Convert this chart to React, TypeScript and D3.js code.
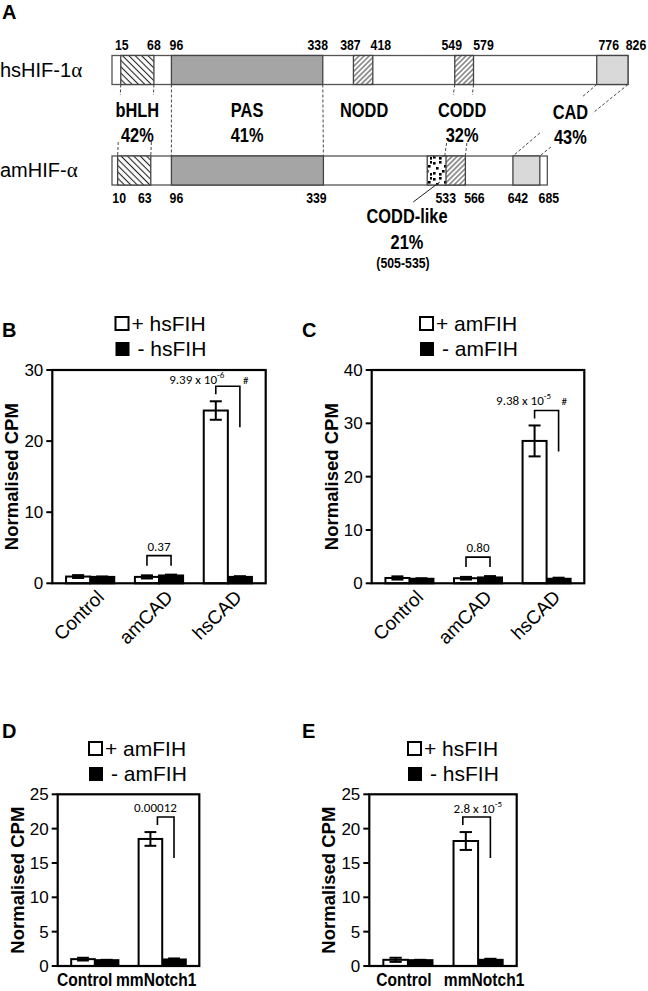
import React from "react";
import * as d3 from "d3";

// ---------------- Panel A data ----------------
const hsLength = 826;
const amLength = 697;
const hsDomainStart = [15, 96, 387, 549, 776];
const hsDomainEnd = [68, 338, 418, 579, 826];
const hsDomainFill = ["hatchB", "pas", "hatchF", "hatchF", "cad"];
const amDomainStart = [10, 96, 533, 505, 642];
const amDomainEnd = [63, 339, 566, 535, 685];
const amDomainFill = ["hatchB", "pas", "hatchF", "dots", "cad"];
const identityNames = ["bHLH", "PAS", "NODD", "CODD", "CAD"];
const identityPct = ["42%", "41%", "", "32%", "43%"];
const hsTickLabels = [15, 68, 96, 338, 387, 418, 549, 579, 776, 826];
const amTickLabels = [10, 63, 96, 339, 533, 566, 642, 685];
const connectorHs = [15, 68, 96, 338, 549, 579, 776, 826];
const connectorAm = [10, 63, 96, 339, 533, 566, 642, 685];
const coddLikeText = ["CODD-like", "21%", "(505-535)"];

// ---------------- Panels B-E data ----------------
const catsBC = ["Control", "amCAD", "hsCAD"];
const catsDE = ["Control", "mmNotch1"];

const bPlus = [0.95, 0.9, 24.3];
const bPlusErr = [0.2, 0.22, 1.3];
const bMinus = [0.9, 1.1, 0.9];
const bMinusErr = [0.06, 0.12, 0.1];

const cPlus = [1.0, 0.95, 26.7];
const cPlusErr = [0.3, 0.25, 2.9];
const cMinus = [0.85, 1.1, 0.85];
const cMinusErr = [0.1, 0.25, 0.2];

const dPlus = [1.0, 18.5];
const dPlusErr = [0.2, 1.0];
const dMinus = [0.85, 0.95];
const dMinusErr = [0.05, 0.15];

const ePlus = [0.9, 18.2];
const ePlusErr = [0.3, 1.3];
const eMinus = [0.85, 0.9];
const eMinusErr = [0.05, 0.15];

const bTicks = [0, 10, 20, 30];
const cTicks = [0, 10, 20, 30, 40];
const deTicks = [0, 5, 10, 15, 20, 25];

const legendB = ["+ hsFIH", "- hsFIH"];
const legendC = ["+ amFIH", "- amFIH"];
const legendD = ["+ amFIH", "- amFIH"];
const legendE = ["+ hsFIH", "- hsFIH"];

const bBrackets = [
  { cat: 1, text: "0.37", sup: "", hash: false, kind: "small" },
  { cat: 2, text: "9.39 x 10", sup: "-6", hash: true, kind: "tall" },
];
const cBrackets = [
  { cat: 1, text: "0.80", sup: "", hash: false, kind: "small" },
  { cat: 2, text: "9.38 x 10", sup: "-5", hash: true, kind: "tall" },
];
const dBrackets = [{ cat: 1, text: "0.00012", sup: "", hash: false, kind: "tall" }];
const eBrackets = [{ cat: 1, text: "2.8 x 10", sup: "-5", hash: false, kind: "tall" }];

// ---------------- styling ----------------
const ARIAL = "'Liberation Sans', Arial, Helvetica, sans-serif";
const CALI = "Carlito, Calibri, Lato, 'Open Sans', sans-serif";
const NARROW_SCALE = 0.82;

const xA = d3.scaleLinear().domain([1, hsLength]).range([112, 628]);
const HS_Y = 55.5;
const AM_Y = 156;
const BAR_H = 29;

const hsTickDx = [1, 0, 5, -5, -3, 8, -3, 10, 12, 8];
const amTickDx = [1.5, -6, 5, -7, 1, 9, 5, 9];
const identityDx = [0, 0, 1, -2, -42];
const identityDy = [0, 0, 0, 0, 2];
const connectorGaps: (number[] | null)[] = [
  [95, 142], [95, 142], null, null, [95, 143], [95, 143], [97, 133], [113, 147],
];

function NText({ x, y, size, anchor = "middle", weight = "bold", children }: any) {
  return (
    <text transform={`translate(${x},${y}) scale(${NARROW_SCALE},1)`} textAnchor={anchor}
      fontFamily={ARIAL} fontWeight={weight} fontSize={size}>{children}</text>
  );
}

function fillFor(k: string) {
  if (k === "pas") return "#a5a5a5";
  if (k === "cad") return "#d9d9d9";
  return `url(#${k})`;
}

function ProteinBar({ y, length, starts, ends, fills }: any) {
  return (
    <g>
      <rect x={xA(1)} y={y} width={xA(length) - xA(1)} height={BAR_H} fill="#fff" stroke="#555" strokeWidth={1.3} />
      {starts.map((s: number, i: number) => (
        <rect key={i} x={xA(s)} y={y} width={xA(ends[i]) - xA(s)} height={BAR_H}
          fill={fillFor(fills[i])} stroke="#444" strokeWidth={1.3} />
      ))}
    </g>
  );
}

function PanelA() {
  const yTop = HS_Y + BAR_H;
  const yBot = AM_Y;
  return (
    <g>
      <text x={2} y={19} fontFamily={ARIAL} fontWeight="bold" fontSize={20}>A</text>
      <text x={0} y={77} fontFamily={ARIAL} fontSize={20}>hsHIF-1<tspan fontFamily="'Liberation Serif', serif" fontSize={21}>α</tspan></text>
      <text x={0} y={177} fontFamily={ARIAL} fontSize={20}>amHIF-<tspan fontFamily="'Liberation Serif', serif" fontSize={21}>α</tspan></text>

      {hsTickLabels.map((t, i) => (
        <NText key={"h" + i} x={xA(t) + hsTickDx[i]} y={50} size={15}>{t}</NText>
      ))}
      {amTickLabels.map((t, i) => (
        <NText key={"a" + i} x={xA(t) + amTickDx[i]} y={203} size={15}>{t}</NText>
      ))}

      {connectorHs.map((h, i) => {
        const xh = xA(h), xa = xA(connectorAm[i]);
        const at = (yy: number) => xh + (xa - xh) * (yy - yTop) / (yBot - yTop);
        const g = connectorGaps[i];
        const segs = g ? [[yTop, g[0]], [g[1], yBot]] : [[yTop, yBot]];
        return segs.map((s, j) => (
          <line key={i + "-" + j} x1={at(s[0])} y1={s[0]} x2={at(s[1])} y2={s[1]}
            stroke="#333" strokeWidth={0.9} strokeDasharray="3,2" />
        ));
      })}

      <ProteinBar y={HS_Y} length={hsLength} starts={hsDomainStart} ends={hsDomainEnd} fills={hsDomainFill} />
      <ProteinBar y={AM_Y} length={amLength} starts={amDomainStart} ends={amDomainEnd} fills={amDomainFill} />

      {identityNames.map((n, i) => {
        const cx = (xA(hsDomainStart[i]) + xA(hsDomainEnd[i])) / 2 + identityDx[i];
        return (
          <g key={n}>
            <NText x={cx} y={117 + identityDy[i]} size={20}>{n}</NText>
            {identityPct[i] && <NText x={cx} y={142 + identityDy[i]} size={20}>{identityPct[i]}</NText>}
          </g>
        );
      })}

      <line x1={xA(525)} y1={AM_Y + BAR_H - 3} x2={xA(505) - 14} y2={202} stroke="#222" strokeWidth={1} />
      <NText x={407} y={223} size={20}>{coddLikeText[0]}</NText>
      <NText x={407} y={249} size={20}>{coddLikeText[1]}</NText>
      <NText x={403} y={268} size={15}>{coddLikeText[2]}</NText>
    </g>
  );
}

type PanelCfg = {
  letter: string; letterX: number; letterY: number;
  frame: number[]; yMax: number; ticks: number[];
  cats: string[]; plus: number[]; plusErr: number[]; minus: number[]; minusErr: number[];
  legend: string[]; legendX: number; legendY: number;
  rotated: boolean; xLabelDx: number[];
  brackets: any[]; leftLegDx: number; labelDx: number; labelDy: number;
};

function BarPanel({ c }: { c: PanelCfg }) {
  const [x0, x1, y0, y1] = c.frame;
  const y = d3.scaleLinear().domain([0, c.yMax]).range([y1, y0]);
  const xb = d3.scaleBand().domain(c.cats).range([x0, x1]).paddingInner(0.3).paddingOuter(0.2);
  const xs = d3.scaleBand().domain(["plus", "minus"]).range([0, xb.bandwidth()]);
  const bw = xs.bandwidth();
  const capW = bw * 0.5;
  const midY = (y0 + y1) / 2;

  const errBar = (cx: number, v: number, e: number, k: string) => (
    <g key={k} stroke="#000" strokeWidth={2}>
      <line x1={cx} x2={cx} y1={y(v - e)} y2={y(v + e)} />
      <line x1={cx - capW / 2} x2={cx + capW / 2} y1={y(v + e)} y2={y(v + e)} />
      <line x1={cx - capW / 2} x2={cx + capW / 2} y1={y(v - e)} y2={y(v - e)} />
    </g>
  );

  return (
    <g>
      <text x={c.letterX} y={c.letterY} fontFamily={ARIAL} fontWeight="bold" fontSize={20}>{c.letter}</text>
      <rect x={c.legendX} y={c.legendY} width={13} height={13} fill="#fff" stroke="#000" strokeWidth={2} />
      <text x={c.legendX + 16} y={c.legendY + 14} fontFamily={ARIAL} fontSize={21}>{c.legend[0]}</text>
      <rect x={c.legendX} y={c.legendY + 25} width={14} height={14} fill="#000" />
      <text x={c.legendX + 22} y={c.legendY + 39} fontFamily={ARIAL} fontSize={21}>{c.legend[1]}</text>

      <text transform={`translate(${x0 - 34},${midY}) rotate(-90)`} textAnchor="middle"
        fontFamily={ARIAL} fontWeight="bold" fontSize={18.5}>Normalised CPM</text>

      {c.cats.map((cat, i) => {
        const gx = xb(cat)!;
        const px = gx + xs("plus")!;
        const mx = gx + xs("minus")!;
        return (
          <g key={cat}>
            <rect x={mx} y={y(c.minus[i])} width={bw} height={y(0) - y(c.minus[i])} fill="#000" stroke="#000" strokeWidth={2} />
            {errBar(mx + bw / 2, c.minus[i], c.minusErr[i], "em" + i)}
            <rect x={px} y={y(c.plus[i])} width={bw} height={y(0) - y(c.plus[i])} fill="#fff" stroke="#000" strokeWidth={2} />
            {errBar(px + bw / 2, c.plus[i], c.plusErr[i], "ep" + i)}
          </g>
        );
      })}

      <rect x={x0} y={y0} width={x1 - x0} height={y1 - y0} fill="none" stroke="#000" strokeWidth={2.2} />
      {c.ticks.map((t) => (
        <g key={t}>
          <line x1={x0 - 6} x2={x0} y1={y(t)} y2={y(t)} stroke="#000" strokeWidth={2} />
          <text x={x0 - 9} y={y(t) + 6} textAnchor="end" fontFamily={ARIAL} fontSize={17}>{t}</text>
        </g>
      ))}

      {c.cats.map((cat, i) => {
        const cx = xb(cat)! + xb.bandwidth() / 2;
        return c.rotated ? (
          <text key={cat} transform={`translate(${cx + 15},${y1 + 15}) rotate(-45)`} textAnchor="end"
            fontFamily={ARIAL} fontSize={19}>{cat}</text>
        ) : (
          <NText key={cat} x={cx + c.xLabelDx[i]} y={y1 + 20} size={19}>{cat}</NText>
        );
      })}

      {c.brackets.map((b, i) => {
        const cat = c.cats[b.cat];
        const gx = xb(cat)!;
        const pc = gx + xs("plus")! + bw / 2;
        const mc = gx + xs("minus")! + bw / 2;
        if (b.kind === "small") {
          const top = Math.min(y(c.plus[b.cat] + c.plusErr[b.cat]), y(c.minus[b.cat] + c.minusErr[b.cat])) - 19;
          return (
            <g key={i}>
              <path d={`M${pc},${top + 10}V${top}H${mc}V${top + 10}`} fill="none" stroke="#000" strokeWidth={1.6} />
              <text x={(pc + mc) / 2} y={top - 5} textAnchor="middle" fontFamily={CALI} fontSize={13}>{b.text}</text>
            </g>
          );
        }
        const lx = pc + c.leftLegDx;
        const top = y(c.plus[b.cat] + c.plusErr[b.cat]) - 15;
        return (
          <g key={i}>
            <path d={`M${lx},${top + 8}V${top}H${mc}V${top + 41}`} fill="none" stroke="#000" strokeWidth={1.6} />
            <text x={lx + c.labelDx} y={top + c.labelDy} textAnchor="middle" fontFamily={CALI} fontSize={13}>
              {b.text}
              {b.sup && <tspan dy={-6} fontSize={9}>{b.sup}</tspan>}
            </text>
            {b.hash && <text x={mc + 3} y={top + c.labelDy} fontFamily={CALI} fontSize={11} fill="#000">#</text>}
          </g>
        );
      })}
    </g>
  );
}

const panels: PanelCfg[] = [
  {
    letter: "B", letterX: 2, letterY: 337, frame: [52.3, 265.7, 370, 583.3], yMax: 30, ticks: bTicks,
    cats: catsBC, plus: bPlus, plusErr: bPlusErr, minus: bMinus, minusErr: bMinusErr,
    legend: legendB, legendX: 115.5, legendY: 317, rotated: true, xLabelDx: [0, 0, 0],
    brackets: bBrackets, leftLegDx: 0, labelDx: -19, labelDy: -2,
  },
  {
    letter: "C", letterX: 302, letterY: 337, frame: [371.7, 584.3, 370, 583.3], yMax: 40, ticks: cTicks,
    cats: catsBC, plus: cPlus, plusErr: cPlusErr, minus: cMinus, minusErr: cMinusErr,
    legend: legendC, legendX: 420, legendY: 317, rotated: true, xLabelDx: [0, 0, 0],
    brackets: cBrackets, leftLegDx: 0, labelDx: -11, labelDy: -5,
  },
  {
    letter: "D", letterX: 2, letterY: 738, frame: [57.7, 199.3, 794.3, 966], yMax: 25, ticks: deTicks,
    cats: catsDE, plus: dPlus, plusErr: dPlusErr, minus: dMinus, minusErr: dMinusErr,
    legend: legendD, legendX: 89, legendY: 742, rotated: false, xLabelDx: [-10, -6],
    brackets: dBrackets, leftLegDx: 7, labelDx: -2, labelDy: -5,
  },
  {
    letter: "E", letterX: 302, letterY: 738, frame: [369.3, 516.7, 794.3, 966], yMax: 25, ticks: deTicks,
    cats: catsDE, plus: ePlus, plusErr: ePlusErr, minus: eMinus, minusErr: eMinusErr,
    legend: legendE, legendX: 408, legendY: 742, rotated: false, xLabelDx: [-4, 6],
    brackets: eBrackets, leftLegDx: -3, labelDx: 15, labelDy: -4,
  },
];

export default function App() {
  return (
    <div style={{ position: "absolute", left: 0, top: 0 }}>
      <svg width={648} height={991} viewBox="0 0 648 991" style={{ display: "block", background: "#fff" }}>
        <defs>
          <pattern id="hatchB" width={4.5} height={4.5} patternUnits="userSpaceOnUse" patternTransform="rotate(-45)">
            <rect width={4.5} height={4.5} fill="#fff" />
            <line x1={2.25} y1={0} x2={2.25} y2={4.5} stroke="#222" strokeWidth={1.1} />
          </pattern>
          <pattern id="hatchF" width={3.6} height={3.6} patternUnits="userSpaceOnUse" patternTransform="rotate(45)">
            <rect width={3.6} height={3.6} fill="#fff" />
            <line x1={1.8} y1={0} x2={1.8} y2={3.6} stroke="#222" strokeWidth={0.9} />
          </pattern>
          <pattern id="dots" width={16} height={16} patternUnits="userSpaceOnUse">
            <rect width={16} height={16} fill="#fff" />
            {[[1, 2], [7, 1], [12, 5], [4, 7], [10, 10], [1, 12], [7, 13], [14, 13], [14, 1]].map((p, i) => (
              <rect key={i} x={p[0]} y={p[1]} width={2.6} height={2.6} fill="#000" />
            ))}
          </pattern>
        </defs>
        <rect width={648} height={991} fill="#fff" />
        <PanelA />
        {panels.map((p) => <BarPanel key={p.letter} c={p} />)}
      </svg>
    </div>
  );
}
